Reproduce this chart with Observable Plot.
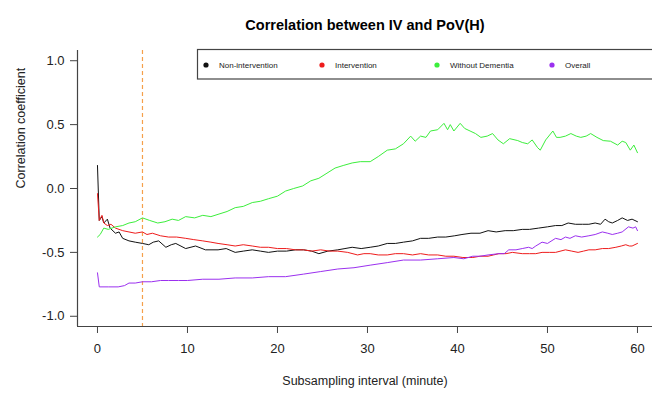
<!DOCTYPE html>
<html>
<head>
<meta charset="utf-8">
<script src="https://cdn.jsdelivr.net/npm/d3@7"></script>
<script src="https://cdn.jsdelivr.net/npm/@observablehq/plot@0.6"></script>
<style>
  html, body { margin: 0; padding: 0; background: #fff; }
  svg { font-family: "Liberation Sans", Arial, sans-serif; }
</style>
</head>
<body>
<div id="chart"></div>
<script>
const title = "Correlation between IV and PoV(H)";
const xLabel = "Subsampling interval (minute)";
const yLabel = "Correlation coefficient";
const xTicks = [0, 10, 20, 30, 40, 50, 60];
const yTicks = [-1.0, -0.5, 0.0, 0.5, 1.0];
const cutoff = [5];

const seriesNames = ["Non-intervention", "Intervention", "Without Dementia", "Overall"];
const seriesColors = ["#111111", "#ee1c1c", "#3cee3c", "#9b30ef"];

const nonIntervention = [[0,0.18],[0.2,-0.25],[0.5,-0.22],[0.7,-0.27],[1.1,-0.24],[1.4,-0.31],[2,-0.35],[2.4,-0.34],[2.8,-0.39],[3.5,-0.41],[4.2,-0.42],[5,-0.43],[5.7,-0.44],[6.2,-0.42],[6.8,-0.41],[7.6,-0.46],[8.2,-0.44],[8.7,-0.43],[9.8,-0.47],[10.9,-0.45],[12,-0.48],[13.4,-0.48],[14.3,-0.47],[15.3,-0.50],[16.2,-0.49],[17.2,-0.48],[18.1,-0.49],[19,-0.50],[20,-0.49],[21,-0.49],[22,-0.48],[22.9,-0.48],[23.8,-0.49],[24.6,-0.51],[25.6,-0.49],[26.7,-0.48],[27.5,-0.47],[28.3,-0.46],[29.3,-0.47],[30.3,-0.46],[31.2,-0.45],[32.2,-0.43],[33.1,-0.43],[34,-0.42],[35,-0.41],[35.9,-0.39],[36.8,-0.39],[37.8,-0.38],[38.7,-0.38],[39.7,-0.37],[40.5,-0.36],[41.5,-0.35],[42.5,-0.35],[43.4,-0.33],[44.3,-0.34],[45.3,-0.33],[46.2,-0.33],[47.2,-0.32],[48,-0.32],[49,-0.31],[50,-0.30],[50.9,-0.29],[51.6,-0.29],[52.3,-0.27],[53.1,-0.28],[53.9,-0.28],[54.6,-0.28],[55.3,-0.27],[55.9,-0.28],[56.4,-0.24],[56.8,-0.26],[57.2,-0.27],[57.8,-0.25],[58.3,-0.23],[58.9,-0.25],[59.4,-0.24],[60,-0.26]];

const intervention = [[0,-0.04],[0.2,-0.25],[0.5,-0.21],[0.7,-0.27],[1.1,-0.29],[1.5,-0.28],[2,-0.31],[2.8,-0.33],[3.5,-0.34],[4.2,-0.35],[5,-0.34],[5.5,-0.36],[6.1,-0.35],[7,-0.37],[7.9,-0.38],[8.8,-0.38],[9.8,-0.39],[10.7,-0.40],[11.7,-0.41],[12.6,-0.42],[13.4,-0.43],[14.4,-0.44],[15.3,-0.45],[16.2,-0.44],[17.2,-0.45],[18.1,-0.46],[19,-0.46],[20,-0.47],[21,-0.47],[22,-0.48],[22.9,-0.48],[23.8,-0.49],[24.8,-0.48],[25.8,-0.49],[26.7,-0.49],[27.8,-0.50],[28.9,-0.52],[29.6,-0.51],[30.3,-0.51],[31.2,-0.52],[32.2,-0.52],[33.1,-0.51],[34,-0.51],[35,-0.52],[35.9,-0.51],[36.8,-0.52],[37.8,-0.52],[38.7,-0.53],[39.6,-0.53],[40.6,-0.54],[41.7,-0.54],[42.5,-0.53],[43.4,-0.53],[44,-0.52],[44.6,-0.51],[45.4,-0.51],[46.1,-0.50],[47.2,-0.51],[48,-0.51],[48.7,-0.51],[49.4,-0.50],[50.2,-0.50],[50.9,-0.50],[52,-0.48],[52.7,-0.49],[53.4,-0.50],[54,-0.49],[54.6,-0.48],[55.3,-0.48],[56.1,-0.47],[56.8,-0.47],[57.6,-0.46],[58.2,-0.45],[58.7,-0.44],[59.1,-0.45],[59.4,-0.45],[60,-0.43]];

const withoutDementia = [[0,-0.38],[0.3,-0.36],[0.7,-0.31],[1.2,-0.32],[2,-0.30],[2.8,-0.29],[3.5,-0.27],[4.2,-0.26],[5,-0.23],[5.8,-0.25],[6.7,-0.27],[7.5,-0.26],[8.3,-0.24],[9,-0.25],[9.8,-0.22],[10.8,-0.23],[11.7,-0.21],[12.6,-0.22],[13.5,-0.20],[14.4,-0.18],[15.3,-0.15],[16.2,-0.14],[17.2,-0.11],[18.1,-0.10],[19,-0.08],[20,-0.06],[20.9,-0.02],[21.8,0.0],[22.8,0.02],[23.7,0.06],[24.6,0.08],[25.5,0.12],[26.4,0.16],[27.3,0.18],[28.3,0.20],[29.2,0.21],[30.3,0.21],[31.2,0.25],[32.2,0.30],[33.1,0.31],[34,0.35],[34.8,0.41],[35.3,0.37],[35.9,0.41],[36.5,0.40],[37,0.45],[37.8,0.46],[38.5,0.51],[38.9,0.46],[39.2,0.50],[39.6,0.45],[40.3,0.51],[40.8,0.47],[41.4,0.45],[42,0.43],[42.6,0.40],[43.3,0.41],[43.9,0.43],[44.5,0.38],[45.1,0.35],[45.8,0.39],[46.7,0.375],[47.2,0.36],[47.8,0.35],[48.3,0.38],[48.9,0.32],[49.2,0.30],[49.8,0.38],[50.6,0.45],[51,0.40],[51.4,0.40],[52,0.41],[52.6,0.43],[53.2,0.41],[53.7,0.40],[54.3,0.41],[54.8,0.43],[55.5,0.40],[56.2,0.375],[57,0.37],[57.8,0.34],[58.3,0.37],[58.7,0.36],[59.2,0.30],[59.6,0.34],[60,0.28]];

const overall = [[0,-0.66],[0.2,-0.77],[1.2,-0.77],[2.3,-0.77],[3,-0.76],[3.5,-0.74],[4.2,-0.74],[5,-0.73],[6,-0.73],[7,-0.72],[7.9,-0.72],[9,-0.72],[10,-0.72],[11.7,-0.71],[13.5,-0.71],[15.3,-0.70],[17.2,-0.70],[19,-0.69],[20.9,-0.69],[22.9,-0.67],[24.8,-0.65],[26.7,-0.63],[28.5,-0.62],[30.3,-0.60],[32.2,-0.58],[34,-0.56],[35.9,-0.56],[37.8,-0.55],[39.6,-0.54],[40.7,-0.55],[41.7,-0.53],[42.5,-0.53],[43.4,-0.52],[44.6,-0.51],[45.2,-0.51],[45.7,-0.48],[46.5,-0.48],[47.2,-0.47],[47.9,-0.46],[48.3,-0.47],[48.7,-0.45],[49.4,-0.42],[50,-0.43],[50.9,-0.39],[51.5,-0.40],[52,-0.38],[52.5,-0.39],[53.1,-0.37],[53.8,-0.38],[54.6,-0.37],[55.3,-0.36],[56.1,-0.34],[56.7,-0.35],[57.2,-0.36],[57.8,-0.35],[58.3,-0.34],[59,-0.30],[59.5,-0.31],[59.8,-0.30],[60,-0.33]];

const seriesData = [nonIntervention, intervention, withoutDementia, overall];

const rows = seriesData.flatMap((pts, i) =>
  pts.map(([x, y]) => ({ series: seriesNames[i], x, y })));

const xDomain = [-2.22, 61.67];
const yDomain = [-1.08, 1.08];
const axisColor = "#444";
const textColor = "#222";

const chart = Plot.plot({
  width: 652,
  height: 398,
  marginLeft: 77,
  marginRight: 0,
  marginTop: 50,
  marginBottom: 72,
  style: { fontFamily: "Liberation Sans, Arial, sans-serif", background: "#fff" },
  x: { domain: xDomain },
  y: { domain: yDomain },
  color: { domain: seriesNames, range: seriesColors },
  marks: [
    Plot.ruleX(cutoff, { stroke: "#f5a04a", strokeWidth: 1.2, strokeDasharray: "4,3" }),
    Plot.line(rows, { x: "x", y: "y", z: "series", stroke: "series", strokeWidth: 1, curve: "linear" }),
    Plot.ruleX([xDomain[0]], { stroke: axisColor, strokeWidth: 1.2 }),
    Plot.ruleY([yDomain[0]], { stroke: axisColor, strokeWidth: 1.2 }),
    Plot.axisY({ ticks: yTicks, tickFormat: d => d.toFixed(1), tickSize: 7, tickPadding: 6,
      fontSize: 13, label: null, stroke: axisColor, fill: textColor }),
    Plot.axisX({ ticks: xTicks, tickFormat: d => String(d), tickSize: 7, tickPadding: 10,
      fontSize: 13, label: null, stroke: axisColor, fill: textColor }),
    Plot.text([title], { frameAnchor: "top", dy: -31, fontSize: 14.5, fontWeight: "bold", fill: "#000" }),
    Plot.text([xLabel], { frameAnchor: "bottom", dy: 58, fontSize: 12.5, fill: textColor }),
    Plot.text([yLabel], { frameAnchor: "left", dx: -57, rotate: -90, fontSize: 12.5, fill: textColor })
  ]
});

// legend box (R style, inside top of plot region)
const svg = d3.select(chart);
const lg = svg.append("g")
  .attr("font-size", 8)
  .attr("fill", textColor)
  .attr("text-anchor", "start")
  .attr("font-family", "Liberation Sans, Arial, sans-serif");
lg.append("rect")
  .attr("x", 197.5).attr("y", 49.5).attr("width", 470).attr("height", 29.5)
  .attr("fill", "#fff").attr("stroke", "#444").attr("stroke-width", 1.2);
const dotX = [206, 322, 437, 552];
seriesNames.forEach((name, i) => {
  lg.append("circle").attr("cx", dotX[i]).attr("cy", 65).attr("r", 2.6).attr("fill", seriesColors[i]);
  lg.append("text").attr("x", dotX[i] + 13).attr("y", 65).attr("dy", "0.35em")
    .attr("text-anchor", "start").attr("fill", textColor).text(name);
});

document.getElementById("chart").append(chart);
</script>
</body>
</html>
